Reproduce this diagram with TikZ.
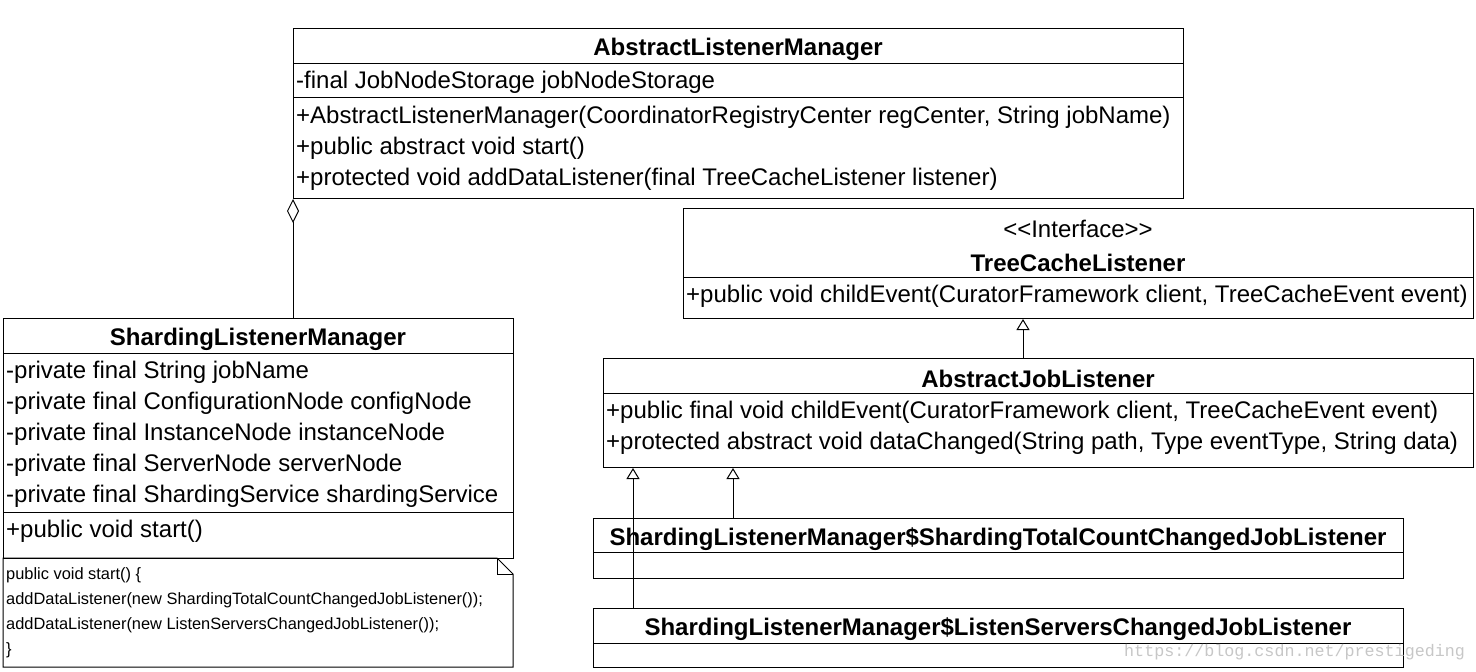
\documentclass[tikz,border=0pt]{standalone}
\usepackage{fontspec}
\setmainfont{Liberation Sans}
\newfontfamily\wmfont{Liberation Mono}
\usetikzlibrary{arrows.meta,calc}
\begin{document}
\begin{tikzpicture}[x=1pt,y=-1pt,
  box/.style={draw=black, line width=1pt, rectangle, inner sep=0pt, anchor=north west},
  sep/.style={line width=1pt},
  txt/.style={anchor=west, inner sep=0pt, font=\fontsize{24}{28}\selectfont},
  ttl/.style={inner sep=0pt, font=\fontsize{24}{28}\selectfont\bfseries},
  notetxt/.style={anchor=west, inner sep=0pt, font=\fontsize{16.4}{19}\selectfont},
  inh/.style={-{Triangle[open, width=13pt, length=11pt]}, line width=1pt},
  agg/.style={{Diamond[open, width=12pt, length=24pt]}-, line width=1pt},
]
\useasboundingbox (0,0) rectangle (1476,672);
\fill[white] (0,0) rectangle (1476,672);

% AbstractListenerManager
\node[box, minimum width=890pt, minimum height=170pt] (alm) at (293,28) {};
\draw[sep] (293,63) -- (1183,63);
\draw[sep] (293,97) -- (1183,97);
\node[ttl] (almt) at (738,49) {AbstractListenerManager};
\node[txt] (alm1) at (296,82) {-final JobNodeStorage jobNodeStorage};
\node[txt] (alm2) at (296,117) {+AbstractListenerManager(CoordinatorRegistryCenter regCenter, String jobName)};
\node[txt] (alm3) at (296,148) {+public abstract void start()};
\node[txt] (alm4) at (296,179) {+protected void addDataListener(final TreeCacheListener listener)};

% TreeCacheListener
\node[box, minimum width=790pt, minimum height=110pt] (tcl) at (683,208) {};
\draw[sep] (683,277) -- (1473,277);
\node[inner sep=0pt, font=\fontsize{24}{28}\selectfont] (tcls) at (1078,229) {<{}<Interface>{}>};
\node[ttl] (tclt) at (1078,263) {TreeCacheListener};
\node[txt] (tcl1) at (686,296) {+public void childEvent(CuratorFramework client, TreeCacheEvent event)};

% AbstractJobListener
\node[box, minimum width=870pt, minimum height=109pt] (ajl) at (603,358) {};
\draw[sep] (603,393) -- (1473,393);
\node[ttl] (ajlt) at (1038,379) {AbstractJobListener};
\node[txt] (ajl1) at (606,412) {+public final void childEvent(CuratorFramework client, TreeCacheEvent event)};
\node[txt] (ajl2) at (606,443) {+protected abstract void dataChanged(String path, Type eventType, String data)};

% ShardingListenerManager
\node[box, minimum width=510pt, minimum height=240pt] (slm) at (3,318) {};
\draw[sep] (3,353) -- (513,353);
\draw[sep] (3,512) -- (513,512);
\node[ttl] (slmt) at (258,339) {ShardingListenerManager};
\node[txt] (slm1) at (6,372) {-private final String jobName};
\node[txt] (slm2) at (6,403) {-private final ConfigurationNode configNode};
\node[txt] (slm3) at (6,434) {-private final InstanceNode instanceNode};
\node[txt] (slm4) at (6,465) {-private final ServerNode serverNode};
\node[txt] (slm5) at (6,496) {-private final ShardingService shardingService};
\node[txt] (slm6) at (6,531) {+public void start()};

% Note
\draw[line width=1pt] (3,558) -- (497,558) -- (513,574) -- (513,667) -- (3,667) -- cycle;
\draw[line width=1pt] (497,558) -- (497,574) -- (513,574);
\node[notetxt] (n1) at (6,575) {public void start() \{};
\node[notetxt] (n2) at (6,600) {addDataListener(new ShardingTotalCountChangedJobListener());};
\node[notetxt] (n3) at (6,625) {addDataListener(new ListenServersChangedJobListener());};
\node[notetxt] (n4) at (6,650) {\}};

% ShardingTotalCountChangedJobListener
\node[box, minimum width=810pt, minimum height=60pt] (stc) at (593,518) {};
\draw[sep] (593,552) -- (1403,552);
\node[ttl] (stct) at (998,539) {ShardingListenerManager\$ShardingTotalCountChangedJobListener};

% ListenServersChangedJobListener
\node[box, minimum width=810pt, minimum height=59pt] (lsc) at (593,608) {};
\draw[sep] (593,643) -- (1403,643);
\node[ttl] (lsct) at (998,629) {ShardingListenerManager\$ListenServersChangedJobListener};

% Connectors
\draw[agg] (alm.south west) -- (alm.south west |- slm.north);

\coordinate (ajltop) at ($(ajl.north west)+(420,0)$);
\draw[inh] (ajltop) -- (ajltop |- tcl.south);

\coordinate (stctop) at ($(stc.north west)+(140,0)$);
\draw[inh] (stctop) -- (stctop |- ajl.south);

\coordinate (lsctop) at ($(lsc.north west)+(40,0)$);
\draw[inh] (lsctop) -- (lsctop |- ajl.south);

% watermark
\node[anchor=west, inner sep=0pt, text=black!22, font=\wmfont\fontsize{16.7}{18}\selectfont] (wm) at (1124,652) {https://blog.csdn.net/prestigeding};
\end{tikzpicture}
\end{document}
